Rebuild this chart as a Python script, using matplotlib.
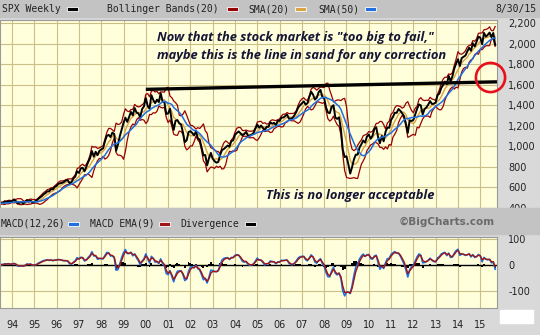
import matplotlib
matplotlib.use("Agg")
import matplotlib.pyplot as plt
from matplotlib.patches import Rectangle
import numpy as np
import pandas as pd

# ---- monthly SPX closes, Jan 1993 .. Aug 2015 ----
spx_close = [
    438.8, 443.4, 451.7, 440.2, 450.2, 450.5, 448.1, 463.6, 458.9, 467.8, 461.8, 466.5,        # 1993
    481.6, 467.1, 445.8, 450.9, 456.5, 444.3, 458.3, 475.5, 462.7, 472.4, 453.7, 459.3,        # 1994
    470.4, 487.4, 500.7, 514.7, 533.4, 544.8, 562.1, 561.9, 584.4, 581.5, 605.4, 615.9,        # 1995
    636.0, 640.4, 645.5, 654.2, 669.1, 670.6, 639.9, 652.0, 687.3, 705.3, 757.0, 740.7,        # 1996
    786.2, 790.8, 757.1, 801.3, 848.3, 885.1, 954.3, 899.5, 947.3, 914.6, 955.4, 970.4,        # 1997
    980.3, 1049.3, 1101.8, 1111.8, 1090.8, 1133.8, 1120.7, 957.3, 1017.0, 1098.7, 1163.6, 1229.2,  # 1998
    1279.6, 1238.3, 1286.4, 1335.2, 1301.8, 1372.7, 1328.7, 1320.4, 1282.7, 1362.9, 1388.9, 1469.3,  # 1999
    1394.5, 1366.4, 1498.6, 1452.4, 1420.6, 1454.6, 1430.8, 1517.7, 1436.5, 1429.4, 1315.2, 1320.3,  # 2000
    1366.0, 1239.9, 1160.3, 1249.5, 1255.8, 1224.4, 1211.2, 1133.6, 1040.9, 1059.8, 1139.5, 1148.1,  # 2001
    1130.2, 1106.7, 1147.4, 1076.9, 1067.1, 989.8, 911.6, 916.1, 815.3, 885.8, 936.3, 879.8,    # 2002
    855.7, 841.2, 848.2, 916.9, 963.6, 974.5, 990.3, 1008.0, 996.0, 1050.7, 1058.2, 1111.9,     # 2003
    1131.1, 1144.9, 1126.2, 1107.3, 1120.7, 1140.8, 1101.7, 1104.2, 1114.6, 1130.2, 1173.8, 1211.9,  # 2004
    1181.3, 1203.6, 1180.6, 1156.9, 1191.5, 1191.3, 1234.2, 1220.3, 1228.8, 1207.0, 1249.5, 1248.3,  # 2005
    1280.1, 1280.7, 1294.8, 1310.6, 1270.1, 1270.2, 1276.7, 1303.8, 1335.9, 1377.9, 1400.6, 1418.3,  # 2006
    1438.2, 1406.8, 1420.9, 1482.4, 1530.6, 1503.4, 1455.3, 1474.0, 1526.8, 1549.4, 1481.1, 1468.4,  # 2007
    1378.6, 1330.6, 1322.7, 1385.6, 1400.4, 1280.0, 1267.4, 1282.8, 1166.4, 968.8, 896.2, 903.3,  # 2008
    825.9, 735.1, 797.9, 872.8, 919.1, 919.3, 987.5, 1020.6, 1057.1, 1036.2, 1095.6, 1115.1,    # 2009
    1073.9, 1104.5, 1169.4, 1186.7, 1089.4, 1030.7, 1101.6, 1049.3, 1141.2, 1183.3, 1180.6, 1257.6,  # 2010
    1286.1, 1327.2, 1325.8, 1363.6, 1345.2, 1320.6, 1292.3, 1218.9, 1131.4, 1253.3, 1247.0, 1257.6,  # 2011
    1312.4, 1365.7, 1408.5, 1397.9, 1310.3, 1362.2, 1379.3, 1406.6, 1440.7, 1412.2, 1416.2, 1426.2,  # 2012
    1498.1, 1514.7, 1569.2, 1597.6, 1630.7, 1606.3, 1685.7, 1633.0, 1681.6, 1756.5, 1805.8, 1848.4,  # 2013
    1782.6, 1859.5, 1872.3, 1884.0, 1923.6, 1960.2, 1930.7, 2003.4, 1972.3, 2018.1, 2067.6, 2058.9,  # 2014
    1995.0, 2104.5, 2067.9, 2085.5, 2107.4, 2063.1, 2103.8, 1988.9,                            # 2015
]
first_year = 1993
years = list(range(1994, 2016))
year_labels = ["%02d" % (y % 100) for y in years]
price_ticks = list(range(400, 2201, 200))
macd_ticks = [-100, 0, 100]

# "line in the sand" end points (year, level) and the circled zone
sand_line_x = [2000.0, 2015.75]
sand_line_y = [1555, 1628]
circle_x, circle_y = 2015.43, 1674

# ---- indicators (weekly settings scaled to monthly bars) ----
s = pd.Series(spx_close)
t = first_year + (np.arange(len(s)) + 1) / 12.0
sma20 = s.rolling(5, min_periods=1).mean()
sma50 = s.rolling(12, min_periods=1).mean()
sd = s.rolling(5, min_periods=2).std().bfill()
bb_up = sma20 + 2 * sd
bb_lo = sma20 - 2 * sd
macd = s.ewm(span=12 / 4.33, adjust=False).mean() - s.ewm(span=26 / 4.33, adjust=False).mean()
signal = macd.ewm(span=9 / 4.33, adjust=False).mean()
diverg = macd - signal

W, H = 540, 335
def px(x, y):
    return x / W, 1 - y / H

fig = plt.figure(figsize=(5.4, 3.35), dpi=100, facecolor="#d9d9d9")

# grey header strip and band between panels
fig.patches.append(Rectangle(px(0, 17), 1, 17 / H, transform=fig.transFigure, color="#c3c3c3", zorder=0))
fig.patches.append(Rectangle(px(0, 234), 1, 26 / H, transform=fig.transFigure, color="#c3c3c3", zorder=0))
fig.patches.append(Rectangle(px(500, 323), 33 / W, 13 / H, transform=fig.transFigure, color="white", zorder=0))

ax = fig.add_axes([0, 1 - 208 / H, 497 / W, 188 / H])
ax2 = fig.add_axes([0, 1 - 308 / H, 497 / W, 71 / H])

for a in (ax, ax2):
    a.set_facecolor("#ffffdc")
    a.set_xlim(1993.46, 2015.75)
    a.set_xticks(years)
    a.grid(True, color="#cbbf85", lw=0.8)
    a.set_axisbelow(True)
    a.yaxis.tick_right()
    a.tick_params(length=0, labelsize=7, labelcolor="#222222")
    for sp in a.spines.values():
        sp.set_color("#9a9a9a")
        sp.set_linewidth(0.8)

# ---- price panel ----
ax.plot(t, bb_up, color="#990000", lw=0.9)
ax.plot(t, bb_lo, color="#990000", lw=0.9)
ax.plot(t, sma20, color="#d9a441", lw=1.0)
ax.plot(t, s, color="black", lw=1.4)
ax.plot(t, sma50, color="#1f6fe0", lw=1.1)
ax.plot(sand_line_x, sand_line_y, color="black", lw=2.4, solid_capstyle="butt")
ax.plot([circle_x], [circle_y], "o", ms=21, mfc="none", mec="#e8101a", mew=1.9, clip_on=False, zorder=5)

ax.set_ylim(400, 2230)
ax.set_yticks(price_ticks)
ax.set_yticklabels(["{:,}".format(v) for v in price_ticks])
ax.tick_params(axis="y", pad=8)
ax.set_xticklabels([])

note = dict(fontfamily="Open Sans", fontweight="bold", fontstyle="italic", fontsize=9.3, color="#151535")
fig.text(*px(157, 41), 'Now that the stock market is "too big to fail,"', **note)
fig.text(*px(157, 59), "maybe this is the line in sand for any correction", **note)
fig.text(*px(266, 199), "This is no longer acceptable", **note)

# ---- MACD panel ----
ax2.bar(t, diverg, width=1 / 12, color="black")
ax2.axhline(0, color="black", lw=1.0)
ax2.plot(t, macd, color="#1f6fe0", lw=1.2)
ax2.plot(t, signal, color="#a01515", lw=1.0)
ax2.set_ylim(-165, 108)
ax2.set_yticks(macd_ticks)
ax2.set_yticklabels([str(v) for v in macd_ticks])
ax2.tick_params(axis="y", pad=8)
ax2.set_xticklabels(year_labels)
ax2.tick_params(axis="x", pad=9)

# ---- legends in the grey strips ----
mono = dict(fontfamily="DejaVu Sans Mono", fontsize=7, color="#222222", va="center")
def swatch(x, y, c):
    fig.patches.append(Rectangle(px(x, y + 2), 11 / W, 4 / H, transform=fig.transFigure,
                                 facecolor=c, edgecolor="white", lw=0.6, zorder=3))

fig.text(*px(2, 9), "SPX Weekly", **mono)
swatch(67, 9, "black")
fig.text(*px(107, 9), "Bollinger Bands(20)", **mono)
swatch(227, 9, "#990000")
fig.text(*px(248, 9), "SMA(20)", **mono)
swatch(295, 9, "#d9a441")
fig.text(*px(318, 9), "SMA(50)", **mono)
swatch(365, 9, "#1f6fe0")
fig.text(*px(537, 9), "8/30/15", ha="right", **mono)

fig.text(*px(1, 224), "MACD(12,26)", **mono)
swatch(68, 224, "#1f6fe0")
fig.text(*px(90, 224), "MACD EMA(9)", **mono)
swatch(159, 224, "#a01515")
fig.text(*px(180, 224), "Divergence", **mono)
swatch(245, 224, "black")
fig.text(*px(495, 222), "\u00a9BigCharts.com", ha="right", va="center",
         fontfamily="DejaVu Sans", fontweight="bold", fontsize=7.5, color="#6a6a6a")

fig.savefig("out.png", dpi=100, facecolor=fig.get_facecolor())
